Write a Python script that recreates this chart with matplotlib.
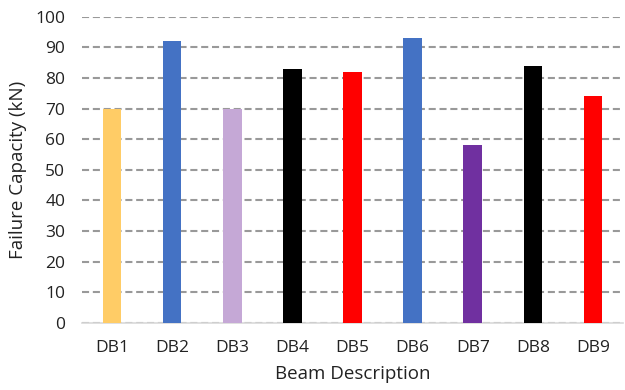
import matplotlib
matplotlib.use("Agg")
import matplotlib.pyplot as plt
import numpy as np

beams = ["DB1", "DB2", "DB3", "DB4", "DB5", "DB6", "DB7", "DB8", "DB9"]
capacity_kn = [70, 92, 70, 83, 82, 93, 58, 84, 74]
bar_colors = ["#FFCC66", "#4472C4", "#C5A8D6", "#000000", "#FF0000",
              "#4472C4", "#7030A0", "#000000", "#FF0000"]
y_ticks = list(range(0, 101, 10))

plt.rcParams["font.family"] = ["Open Sans", "DejaVu Sans"]

fig = plt.figure(figsize=(6.25, 3.9), dpi=100)
ax = fig.add_axes([0.131, 0.172, 0.866, 0.785])

x = np.arange(len(beams))
ax.bar(x, capacity_kn, width=0.31, color=bar_colors, zorder=3)

ax.set_xlim(-0.5, len(beams) - 0.5)
ax.set_ylim(0, 100)
ax.set_yticks(y_ticks)
ax.set_xticks(x)
ax.set_xticklabels(beams)

ax.grid(axis="y", color="#999999", linestyle=(0, (3.4, 1.8)), linewidth=1.5, zorder=0)
ax.set_axisbelow(True)
for side in ("top", "right", "left"):
    ax.spines[side].set_visible(False)
ax.spines["bottom"].set_color("#D9D9D9")
ax.spines["bottom"].set_linewidth(1.2)
ax.tick_params(length=0, labelsize=12.5, colors="#222222")
ax.tick_params(axis="x", pad=12)
ax.tick_params(axis="y", pad=12)

ax.set_xlabel("Beam Description", fontsize=13.5, color="#222222", labelpad=7)
ax.set_ylabel("Failure Capacity (kN)", fontsize=13.5, color="#222222", labelpad=6)

fig.savefig("out.png", dpi=100)
